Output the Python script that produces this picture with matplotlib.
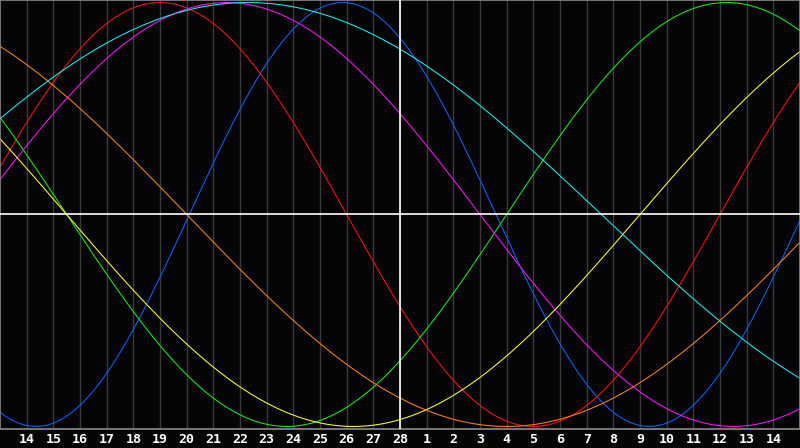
import numpy as np
import matplotlib
matplotlib.use("Agg")
from matplotlib import pyplot as plt

# biorhythm cycles: period (days) and day-of-cycle at the left edge of the chart
names = ["physical", "emotional", "intellectual", "intuitive", "aesthetic", "awareness", "spiritual"]
periods = [23, 28, 33, 38, 43, 48, 53]
start_day = [15.9, 1.0, 14.0, 1.0, 19.0, 17.0, 3.95]
colours = ["#0a64ff", "#ff1010", "#10f010", "#ff10ff", "#ffff20", "#ff8010", "#10f0f0"]

# day labels under the grid lines (Feb 14 .. Mar 14)
day_labels = [str(d) for d in range(14, 29)] + [str(d) for d in range(1, 15)]
today_index = 15  # Feb 28

n_days = len(day_labels) + 1

fig = plt.figure(figsize=(8, 4.48), dpi=100, facecolor="#050508")
ax = fig.add_axes([0, 19 / 448, 1, 429 / 448])
ax.set_facecolor("#050508")

t = np.linspace(0, n_days, 1200)
for p, s, c in zip(periods, start_day, colours):
    ax.plot(t, np.sin(2 * np.pi * (t + s) / p), color=c, lw=0.75)

for k in range(1, n_days):
    ax.axvline(k, color="#3a3a3a", lw=1.0, zorder=0)
ax.axvline(today_index, color="white", lw=1.2, zorder=3)
ax.axhline(0, color="white", lw=1.2, zorder=3)

ax.set_xlim(0, n_days)
ax.set_ylim(-1.012, 1.012)
ax.set_xticks([])
ax.set_yticks([])
for sp in ax.spines.values():
    sp.set_color("#8a8a8a")
    sp.set_linewidth(1.2)

for k, lab in enumerate(day_labels, start=1):
    fig.text(k / n_days, 8.5 / 448, lab, color="white", ha="center", va="center",
             fontsize=9.5, fontweight="bold", family="DejaVu Sans Mono")

fig.savefig("out.png", dpi=100, facecolor=fig.get_facecolor())
